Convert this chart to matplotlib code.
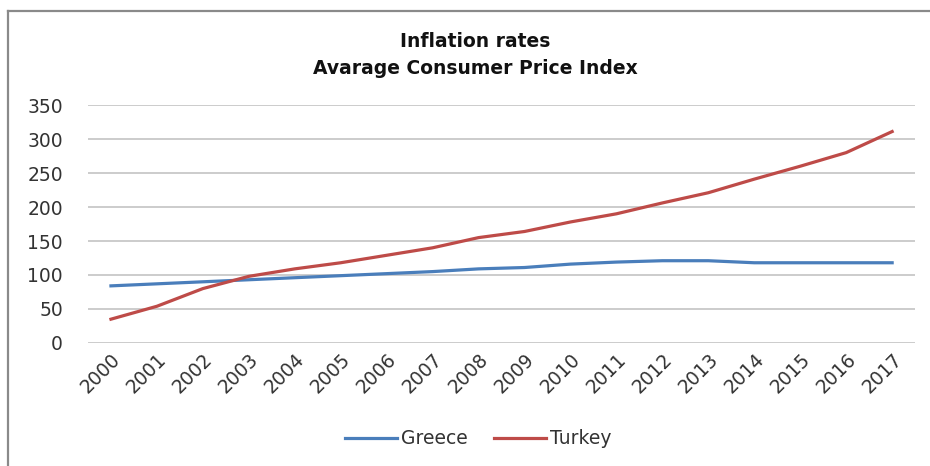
import matplotlib.pyplot as plt
from matplotlib.lines import Line2D

# Data
years = [str(y) for y in range(2000, 2018)]
greece = [84, 87, 90, 93, 96, 99, 102, 105, 109, 111, 116, 119, 121, 121, 118, 118, 118, 118]
turkey = [35, 54, 80, 98, 109, 118, 129, 140, 155, 164, 178, 190, 206, 221, 241, 260, 280, 311]

plt.rcParams['font.family'] = ['DejaVu Sans']

fig = plt.figure(figsize=(9.3, 4.66), dpi=100)
ax = fig.add_axes([0.0946, 0.264, 0.8894, 0.5106])

x = range(len(years))
ax.plot(x, greece, color='#4a7ebb', lw=2.3, label='Greece')
ax.plot(x, turkey, color='#be4b48', lw=2.3, label='Turkey')

ax.set_xlim(-0.5, len(years) - 0.5)
ax.set_ylim(0, 350)
ax.set_yticks(range(0, 351, 50))
ax.set_xticks(list(x))
ax.set_xticklabels(years, rotation=45, ha='right', rotation_mode='anchor')
ax.tick_params(axis='both', length=0, labelsize=13.5, colors='#333333')
ax.tick_params(axis='y', pad=18)
ax.tick_params(axis='x', pad=5)
ax.grid(axis='y', color='#c8c8c8', lw=1.3)
ax.set_axisbelow(True)
for s in ax.spines.values():
    s.set_visible(False)

fig.text(0.511, 0.91, 'Inflation rates', ha='center', va='center',
         fontsize=13.5, fontweight='bold', color='#111111')
fig.text(0.511, 0.853, 'Avarage Consumer Price Index', ha='center', va='center',
         fontsize=13.5, fontweight='bold', color='#111111')

fig.legend(loc='center', bbox_to_anchor=(0.514, 0.058), ncol=2, frameon=False,
           fontsize=13.5, handlelength=2.8, handletextpad=0.2, columnspacing=1.4,
           labelcolor='#333333')

# chart frame (top and left edges visible)
fig.add_artist(Line2D([0.009, 1.0], [0.976, 0.976], transform=fig.transFigure,
                      color='#8a8a8a', lw=1.6))
fig.add_artist(Line2D([0.009, 0.009], [0.0, 0.976], transform=fig.transFigure,
                      color='#8a8a8a', lw=1.6))

fig.savefig('out.png', dpi=100)
